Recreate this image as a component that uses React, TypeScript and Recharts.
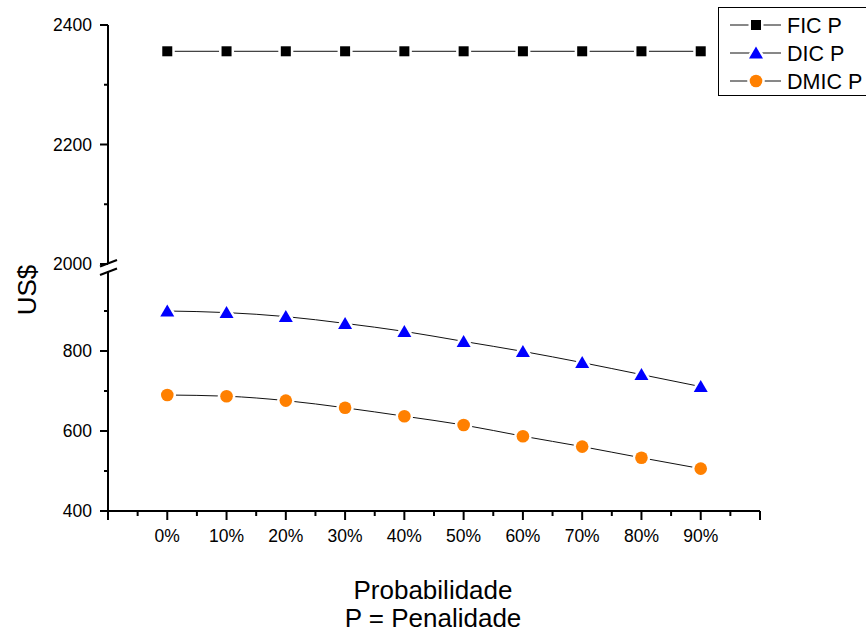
import React from 'react';
import { LineChart, Line, XAxis, YAxis } from 'recharts';

const FONT = '"Liberation Sans", Arial, sans-serif';

// x categories
const probLabels = ['0%', '10%', '20%', '30%', '40%', '50%', '60%', '70%', '80%', '90%'];

// series (US$)
const ficValues = [2356, 2356, 2356, 2356, 2356, 2356, 2356, 2356, 2356, 2356];
const dicValues = [900, 896, 886, 869, 849, 824, 799, 771, 741, 711];
const dmicValues = [690, 687, 676, 658, 637, 615, 587, 561, 533, 506];

// axis ticks
const xTicks = [-1, -0.5, 0, 0.5, 1, 1.5, 2, 2.5, 3, 3.5, 4, 4.5, 5, 5.5, 6, 6.5, 7, 7.5, 8, 8.5, 9, 9.5, 10];
const upperTicks = [2000, 2100, 2200, 2300, 2400];
const upperLabels = [2000, 2200, 2400];
const lowerTicks = [400, 500, 600, 700, 800, 900, 1000];
const lowerLabels = [400, 600, 800];

const seriesNames = ['FIC P', 'DIC P', 'DMIC P'];

const data = probLabels.map((p, i) => ({
  x: i,
  label: p,
  fic: ficValues[i],
  dic: dicValues[i],
  dmic: dmicValues[i],
}));

// markers, with a white halo so the connecting line stops short of them
const SquareMark = ({ cx, cy }: any) => (
  <g>
    <rect x={cx - 5} y={cy - 5} width={10} height={10} fill="#fff" stroke="#fff" strokeWidth={5} />
    <rect x={cx - 5} y={cy - 5} width={10} height={10} fill="#000" />
  </g>
);

const TriMark = ({ cx, cy }: any) => {
  const pts = `${cx},${cy - 6.5} ${cx - 7},${cy + 5.5} ${cx + 7},${cy + 5.5}`;
  return (
    <g>
      <polygon points={pts} fill="#fff" stroke="#fff" strokeWidth={5} strokeLinejoin="round" />
      <polygon points={pts} fill="#0000ff" />
    </g>
  );
};

const CircleMark = ({ cx, cy }: any) => (
  <g>
    <circle cx={cx} cy={cy} r={8.8} fill="#fff" />
    <circle cx={cx} cy={cy} r={6.3} fill="#ff8000" />
  </g>
);

const marks = [SquareMark, TriMark, CircleMark];

const makeYTick = (labels: number[]) => (props: any) => {
  const { x, y, payload } = props;
  const v = payload.value;
  const major = labels.includes(v);
  return (
    <g>
      {v !== 1000 && (
        <line x1={x - (major ? 8 : 4)} x2={x} y1={y} y2={y} stroke="#000" strokeWidth={2} />
      )}
      {major && (
        <text x={x - 16} y={y} dy="0.36em" textAnchor="end" fontSize={17.5} fontFamily={FONT} fill="#000">
          {v}
        </text>
      )}
    </g>
  );
};

const XTick = (props: any) => {
  const { x, y, payload } = props;
  const v = payload.value;
  const major = Number.isInteger(v);
  const label = major && v >= 0 && v < probLabels.length ? probLabels[v] : null;
  return (
    <g>
      <line x1={x} x2={x} y1={y} y2={y + (major ? 9 : 5)} stroke="#000" strokeWidth={2} />
      {label && (
        <text x={x} y={y + 31} textAnchor="middle" fontSize={17.5} fontFamily={FONT} fill="#000">
          {label}
        </text>
      )}
    </g>
  );
};

const Legend = () => (
  <g>
    <rect x={718.5} y={7.5} width={170} height={88} fill="#fff" stroke="#000" strokeWidth={1} />
    {seriesNames.map((name, i) => {
      const cy = 25 + i * 28;
      const Mark = marks[i];
      return (
        <g key={name}>
          <line x1={730} x2={781} y1={cy} y2={cy} stroke="#111" strokeWidth={1} />
          <Mark cx={756} cy={cy} />
          <text x={787} y={cy + 8} fontSize={21.5} fontFamily={FONT} fill="#000">
            {name}
          </text>
        </g>
      );
    })}
  </g>
);

export default function App() {
  return (
    <div style={{ position: 'absolute', left: 0, top: 0, width: 866, height: 636, background: '#fff' }}>
      {/* upper segment: 2000 - 2400 */}
      <div style={{ position: 'absolute', left: 0, top: 0 }}>
        <LineChart width={866} height={280} data={data} margin={{ top: 25, right: 106, bottom: 16, left: 8 }}>
          <XAxis dataKey="x" type="number" domain={[-1, 10]} ticks={xTicks} hide />
          <YAxis
            width={100}
            domain={[2000, 2400]}
            ticks={upperTicks}
            interval={0}
            tickSize={0}
            tickMargin={0}
            tickLine={false}
            axisLine={{ stroke: '#000', strokeWidth: 2 }}
            tick={makeYTick(upperLabels)}
          />
          <Line
            dataKey="fic"
            stroke="#111"
            strokeWidth={1}
            isAnimationActive={false}
            activeDot={false}
            dot={(p: any) => <SquareMark key={`f${p.index}`} cx={p.cx} cy={p.cy} />}
          />
        </LineChart>
      </div>
      {/* lower segment: 400 - 1000 */}
      <div style={{ position: 'absolute', left: 0, top: 0 }}>
        <LineChart width={866} height={560} data={data} margin={{ top: 271, right: 106, bottom: 9, left: 8 }}>
          <XAxis
            dataKey="x"
            type="number"
            domain={[-1, 10]}
            ticks={xTicks}
            interval={0}
            height={40}
            tickSize={0}
            tickMargin={0}
            tickLine={false}
            axisLine={{ stroke: '#000', strokeWidth: 2 }}
            tick={XTick}
          />
          <YAxis
            width={100}
            domain={[400, 1000]}
            ticks={lowerTicks}
            interval={0}
            tickSize={0}
            tickMargin={0}
            tickLine={false}
            axisLine={{ stroke: '#000', strokeWidth: 2 }}
            tick={makeYTick(lowerLabels)}
          />
          <Line
            dataKey="dic"
            type="monotone"
            stroke="#111"
            strokeWidth={1}
            isAnimationActive={false}
            activeDot={false}
            dot={(p: any) => <TriMark key={`d${p.index}`} cx={p.cx} cy={p.cy} />}
          />
          <Line
            dataKey="dmic"
            type="monotone"
            stroke="#111"
            strokeWidth={1}
            isAnimationActive={false}
            activeDot={false}
            dot={(p: any) => <CircleMark key={`m${p.index}`} cx={p.cx} cy={p.cy} />}
          />
        </LineChart>
      </div>
      <svg width={866} height={636} style={{ position: 'absolute', left: 0, top: 0, pointerEvents: 'none' }}>
        {/* axis break marks */}
        <line x1={100} y1={266.5} x2={117} y2={260} stroke="#000" strokeWidth={2} />
        <line x1={100} y1={275} x2={117} y2={268.5} stroke="#000" strokeWidth={2} />
        <text transform="translate(36,290) rotate(-90)" textAnchor="middle" fontSize={26} fontFamily={FONT} fill="#000">
          US$
        </text>
        <text x={433} y={599} textAnchor="middle" fontSize={26} fontFamily={FONT} fill="#000">
          Probabilidade
        </text>
        <text x={433} y={627} textAnchor="middle" fontSize={26} fontFamily={FONT} fill="#000">
          P = Penalidade
        </text>
        <Legend />
      </svg>
    </div>
  );
}
